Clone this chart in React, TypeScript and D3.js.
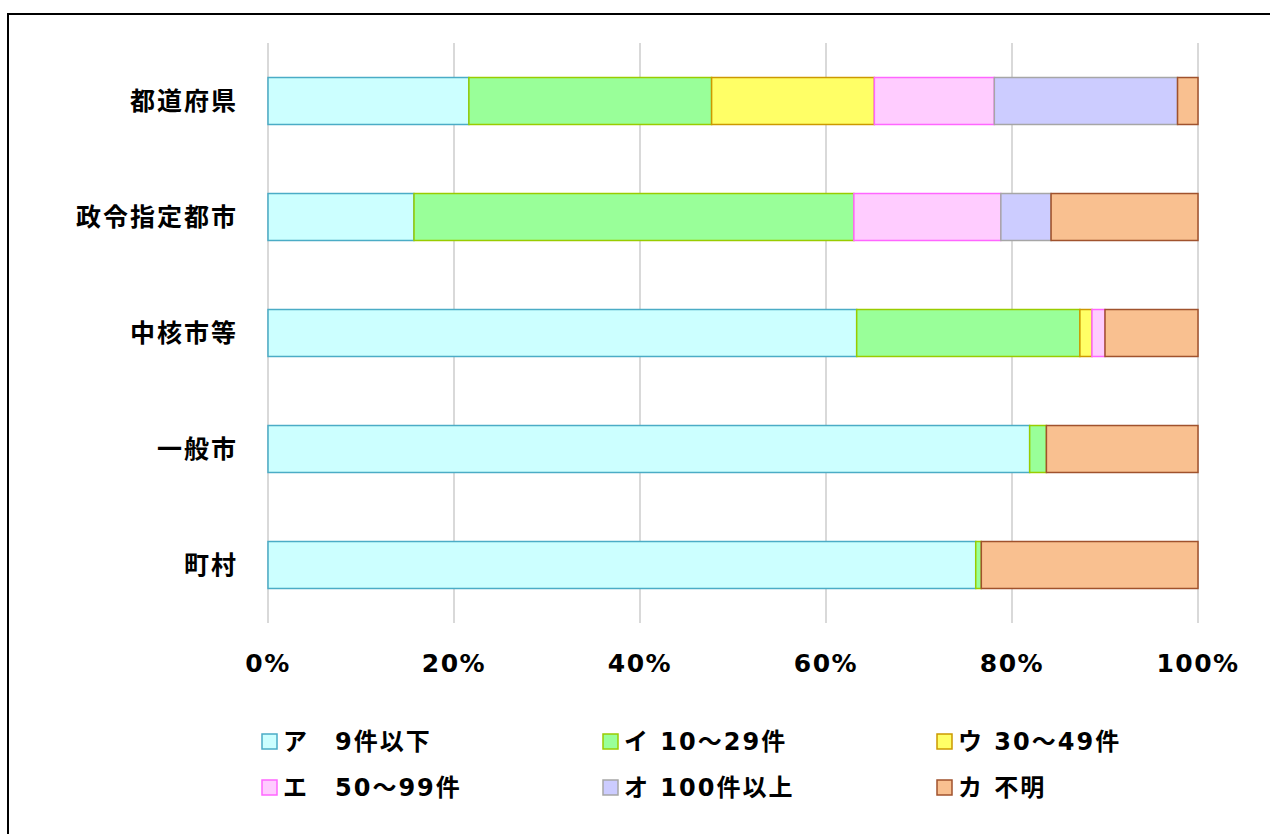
import * as d3 from "d3";
import React, { useEffect, useRef } from "react";

// categories (top to bottom)
const categories = ["都道府県", "政令指定都市", "中核市等", "一般市", "町村"];

// series keys + legend labels
const seriesKeys = ["a", "i", "u", "e", "o", "ka"];
const seriesLabels = ["ア　9件以下", "イ 10～29件", "ウ 30～49件", "エ　50～99件", "オ 100件以上", "カ 不明"];
const seriesFill = ["#CCFFFF", "#99FF99", "#FFFF66", "#FFCCFF", "#CCCCFF", "#F9C090"];
const seriesStroke = ["#4BACC6", "#99CC00", "#CC9900", "#FF66FF", "#A6A6A6", "#A0522D"];

// percentages per category
const valA = [21.6, 15.7, 63.3, 81.9, 76.1];
const valI = [26.1, 47.3, 24.0, 1.8, 0.6];
const valU = [17.5, 0, 1.3, 0, 0];
const valE = [12.9, 15.8, 1.4, 0, 0];
const valO = [19.7, 5.4, 0, 0, 0];
const valKa = [2.2, 15.8, 10.0, 16.3, 23.3];

const tickValues = [0, 20, 40, 60, 80, 100];

export default function App() {
  const svgRef = useRef<SVGSVGElement>(null);
  const W = 1270;
  const H = 834;

  useEffect(() => {
    const svg = d3.select(svgRef.current);
    svg.selectAll("*").remove();

    const rows = categories.map((c, i) => ({
      cat: c,
      a: valA[i],
      i: valI[i],
      u: valU[i],
      e: valE[i],
      o: valO[i],
      ka: valKa[i],
    }));

    const x = d3.scaleLinear().domain([0, 100]).range([268, 1198]);
    const y = d3
      .scaleBand()
      .domain(categories)
      .range([43, 623])
      .paddingInner(0.595)
      .paddingOuter(0.2975);

    // frame (right/bottom edges fall outside the view)
    svg
      .append("rect")
      .attr("x", 8)
      .attr("y", 14)
      .attr("width", 1400)
      .attr("height", 1000)
      .attr("fill", "none")
      .attr("stroke", "#000")
      .attr("stroke-width", 2);

    // gridlines
    svg
      .append("g")
      .selectAll("line")
      .data(tickValues)
      .enter()
      .append("line")
      .attr("x1", (d) => x(d))
      .attr("x2", (d) => x(d))
      .attr("y1", 43)
      .attr("y2", 623)
      .attr("stroke", "#D9D9D9")
      .attr("stroke-width", 2);

    // stacked bars
    const stack = d3.stack<any>().keys(seriesKeys);
    const layers = stack(rows);
    layers.forEach((layer, k) => {
      svg
        .append("g")
        .selectAll("rect")
        .data(layer.filter((d) => d[1] - d[0] > 0))
        .enter()
        .append("rect")
        .attr("x", (d) => x(d[0]))
        .attr("y", (d) => y(d.data.cat)!)
        .attr("width", (d) => x(d[1]) - x(d[0]))
        .attr("height", y.bandwidth())
        .attr("fill", seriesFill[k])
        .attr("stroke", seriesStroke[k])
        .attr("stroke-width", 1.5);
    });

    // category labels
    svg
      .append("g")
      .selectAll("text")
      .data(categories)
      .enter()
      .append("text")
      .attr("x", 238)
      .attr("y", (d) => y(d)! + y.bandwidth() / 2)
      .attr("dy", "0.36em")
      .attr("text-anchor", "end")
      .attr("font-family", "'Noto Sans CJK JP', sans-serif")
      .attr("font-weight", "bold")
      .attr("font-size", 25)
      .attr("letter-spacing", 2)
      .attr("fill", "#000")
      .text((d) => d);

    // x tick labels
    svg
      .append("g")
      .selectAll("text")
      .data(tickValues)
      .enter()
      .append("text")
      .attr("x", (d) => x(d))
      .attr("y", 672)
      .attr("text-anchor", "middle")
      .attr("font-family", "'DejaVu Sans', Verdana, sans-serif")
      .attr("font-weight", "bold")
      .attr("font-size", 25)
      .attr("letter-spacing", 1.5)
      .attr("fill", "#000")
      .text((d) => d + "%");

    // legend
    const legendCols = [262, 603, 937];
    const legendRows = [741, 787];
    const legend = svg
      .append("g")
      .selectAll("g")
      .data(seriesLabels)
      .enter()
      .append("g")
      .attr(
        "transform",
        (d, k) => "translate(" + legendCols[k % 3] + "," + legendRows[Math.floor(k / 3)] + ")"
      );
    legend
      .append("rect")
      .attr("x", 0)
      .attr("y", -7)
      .attr("width", 15)
      .attr("height", 15)
      .attr("fill", (d, k) => seriesFill[k])
      .attr("stroke", (d, k) => seriesStroke[k])
      .attr("stroke-width", 1.5);
    legend
      .append("text")
      .attr("x", 21)
      .attr("y", 0)
      .attr("dy", "0.36em")
      .attr("font-family", "'DejaVu Sans', 'Noto Sans CJK JP', sans-serif")
      .attr("font-weight", "bold")
      .attr("font-size", 24)
      .attr("letter-spacing", 2)
      .attr("fill", "#000")
      .text((d) => d);
  }, []);

  return (
    <svg
      ref={svgRef}
      width={W}
      height={H}
      style={{ position: "fixed", left: 0, top: 0, background: "#fff" }}
    />
  );
}
